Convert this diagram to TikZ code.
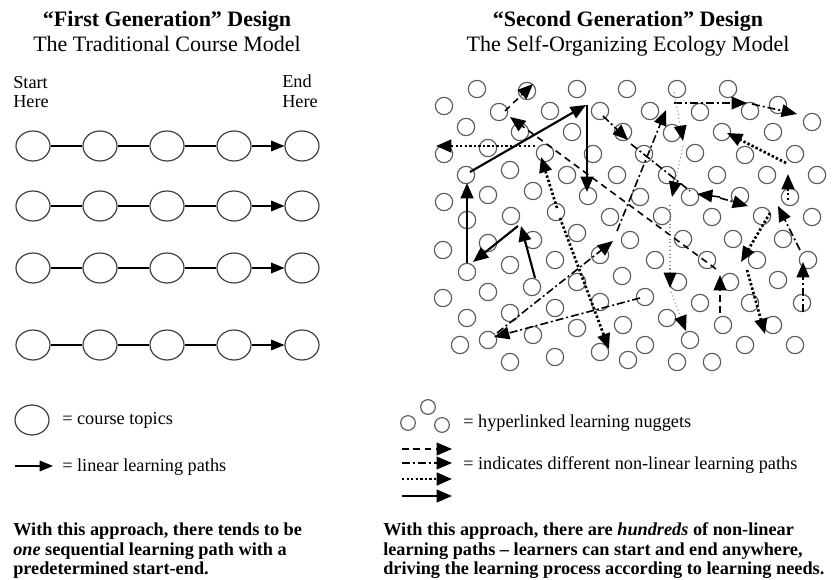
\documentclass[tikz,border=0pt]{standalone}
\usepackage{fontspec}
\setmainfont{Liberation Serif}
\usetikzlibrary{arrows.meta,shapes.geometric}

\tikzset{
  topic/.style={draw=black!75, line width=0.9pt, ellipse, minimum width=25.5pt, minimum height=22.5pt, inner sep=0pt},
  nugget/.style={draw=black!65, line width=0.85pt, circle, minimum size=13pt, inner sep=0pt},
  smallnugget/.style={nugget, minimum size=11pt},
  linpath/.style={line width=0.9pt, -{Triangle[length=10pt,width=8pt]}},
  tip/.style={-{Triangle[length=11.5pt,width=9.5pt,black]}},
  solidpath/.style={line width=1.6pt, tip},
  dashpath/.style={line width=1.2pt, dash pattern=on 5pt off 3.5pt, tip},
  dashdotpath/.style={line width=1.2pt, dash pattern=on 6pt off 2.2pt on 1.5pt off 2.2pt, tip},
  dotpath/.style={line width=2pt, dash pattern=on 1.8pt off 1.6pt, tip},
  greypath/.style={line width=0.8pt, black!45, dotted, tip},
  title/.style={font=\fontsize{16.5}{18}\selectfont\bfseries, anchor=base, inner sep=0pt},
  subtitle/.style={font=\fontsize{16.5}{18}\selectfont, anchor=base, inner sep=0pt},
  txt/.style={font=\fontsize{13.7}{15.5}\selectfont, anchor=base west, inner sep=0pt},
  note/.style={txt, font=\fontsize{13.7}{15.5}\selectfont\bfseries},
}

\begin{document}
\begin{tikzpicture}[x=0.75pt, y=-0.75pt]
    \useasboundingbox (0,0) rectangle (838,580);

    % First generation: the traditional course model
    \node[title] (title1) at (167,27) {“First Generation” Design};
    \node[subtitle] (sub1) at (167,52) {The Traditional Course Model};
    \node[txt] (start1) at (13,89) {Start};
    \node[txt] (start2) at (13,108) {Here};
    \node[txt] (end1) at (282,88) {End};
    \node[txt] (end2) at (282,108) {Here};

    \foreach \y [count=\r] in {146,206,268,345} {
        \foreach \x [count=\c] in {33,100,167,234,302}
            \node[topic] (t\r-\c) at (\x,\y) {};
        \foreach \a/\b in {1/2,2/3,3/4}
            \draw[line width=0.9pt] (t\r-\a) -- (t\r-\b);
        \draw[linpath] (t\r-4) -- (t\r-5);
    }

    % legend, left
    \node[topic] (legtopic) at (32,420) {};
    \node[txt] (legtopictxt) at (62,425) {= course topics};
    \coordinate (linfrom) at (15,466);
    \coordinate (linto) at (53,466);
    \draw[linpath] (linfrom) -- (linto);
    \node[txt] (leglintxt) at (62,471) {= linear learning paths};

    \node[note] (left1) at (13,535) {With this approach, there tends to be};
    \node[note] (left2) at (13,555) {\textit{one} sequential learning path with a};
    \node[note] (left3) at (13,574) {predetermined start-end.};

    % Second generation: the self-organizing ecology model
    \node[title] (title2) at (628,27) {“Second Generation” Design};
    \node[subtitle] (sub2) at (628,52) {The Self-Organizing Ecology Model};

    \foreach \x/\y [count=\i] in {
        477/89, 527/91, 577/89, 627/89, 677/89, 728/89,
        444/106, 499/112, 550/111, 600/111, 650/111, 700/112, 750/111, 778/105,
        466/127, 520/132, 572/132, 623/132, 672/133, 722/132, 773/132, 812/122,
        444/154, 488/148, 545/153, 593/154, 644/154, 695/153, 745/155, 795/154,
        466/175, 510/170, 567/175, 617/175, 667/175, 717/175, 767/175, 817/175,
        444/202, 488/195, 533/191, 588/196, 640/197, 690/197, 740/196, 790/197,
        467/220, 511/216, 556/212, 610/217, 662/216, 712/217, 762/216, 812/217,
        443/250, 488/243, 533/240, 577/233, 630/240, 683/239, 733/239, 783/239,
        467/272, 510/265, 555/260, 600/255, 655/260, 707/260, 757/260, 808/260,
        443/298, 488/292, 532/287, 577/282, 622/276, 678/282, 730/282, 778/280,
        467/318, 510/313, 555/308, 600/302, 645/297, 700/303, 750/303, 802/303,
        460/345, 488/340, 533/335, 577/328, 623/325, 667/318, 723/325, 773/325,
        510/362, 555/357, 600/352, 628/360, 645/345, 677/362, 690/340, 712/362,
        745/345, 795/345}
        \node[nugget] (n\i) at (\x,\y) {};

    % solid paths
    \draw[solidpath] (467,263) -- (467,183);
    \draw[solidpath] (470,172) -- (586,105);
    \draw[solidpath] (587,105) -- (587,192);
    \draw[solidpath] (535,278) -- (521,226);
    \draw[solidpath] (518,226) -- (473,262);

    % dashed paths
    \draw[dashpath] (720,313) -- (720,275);
    \draw[dashpath] (716,269) -- (510,117);
    \draw[dashpath] (505,111) -- (533,84);

    % dotted paths
    \draw[dotpath] (557,208) -- (541,157);
    \draw[dotpath] (535,146) -- (436,146);
    \draw[dotpath] (560,218) -- (609,349);
    \draw[dotpath] (786,163) -- (727,133);
    \draw[dotpath] (788,200) -- (788,174);
    \draw[dotpath] (770,213) -- (741,262);
    \draw[dotpath] (747,270) -- (765,334);

    % dash-dot paths
    \draw[dashdotpath] (640,298) -- (494,337);
    \draw[dashdotpath] (497,333) -- (613,241);
    \draw[dashdotpath] (617,231) -- (666,110);
    \draw[dashdotpath] (674,103) -- (747,103);
    \draw[dashdotpath] (752,104) -- (797,114);
    \draw[dashdotpath] (603,116) -- (628,140);
    \draw[dashdotpath, -] (631,144) -- (690,191);
    \draw[dashdotpath] (720,197) -- (697,194);
    \draw[dashdotpath] (720,198) -- (748,206);
    \draw[dashdotpath] (800,250) -- (778,206);
    \draw[dashdotpath] (803,312) -- (803,262);

    % grey dotted path
    \draw[greypath] (674,92) -- (683,141);
    \draw[greypath] (683,146) -- (672,197);
    \draw[greypath] (670,205) -- (670,288);
    \draw[greypath] (671,292) -- (686,331);

    % legend, right
    \node[smallnugget] (lnug1) at (428,407) {};
    \node[smallnugget] (lnug2) at (408,423) {};
    \node[smallnugget] (lnug3) at (442,425) {};
    \node[txt] (legnugtxt) at (463,427) {= hyperlinked learning nuggets};
    \foreach \y/\s [count=\k] in {449/dashpath, 463/dashdotpath, 479/dotpath, 496/solidpath} {
        \coordinate (pfrom\k) at (402,\y);
        \coordinate (pto\k) at (452,\y);
        \draw[\s] (pfrom\k) -- (pto\k);
    }
    \node[txt] (legpathtxt) at (463,469) {= indicates different non-linear learning paths};

    \node[note] (right1) at (383,535) {With this approach, there are \textit{hundreds} of non-linear};
    \node[note] (right2) at (383,555) {learning paths – learners can start and end anywhere,};
    \node[note] (right3) at (383,574) {driving the learning process according to learning needs.};
\end{tikzpicture}
\end{document}
